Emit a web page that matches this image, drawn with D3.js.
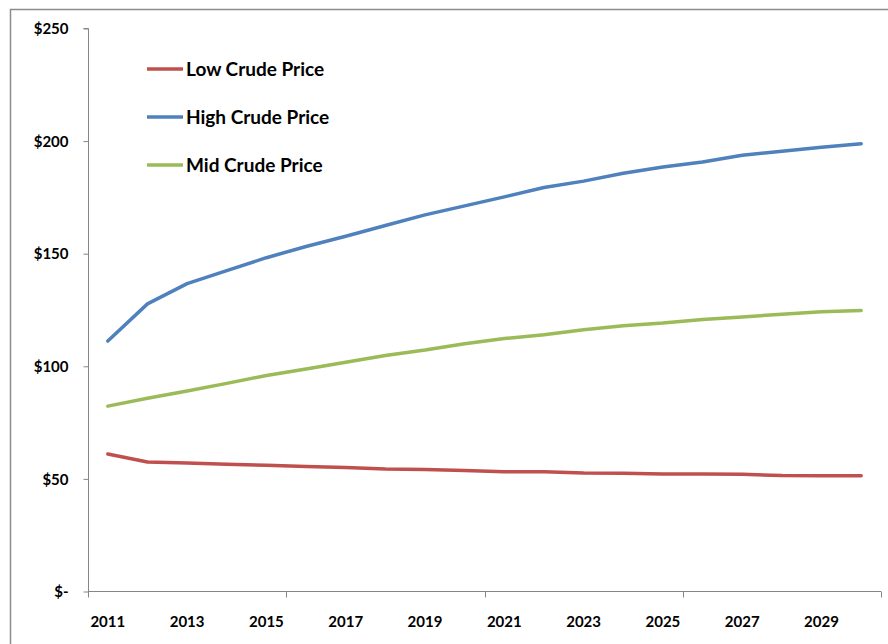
<!DOCTYPE html>
<html>
<head>
<meta charset="utf-8">
<script src="https://cdn.jsdelivr.net/npm/d3@7"></script>
<style>
  body { margin: 0; background: #fff; }
  text { font-family: Lato, "Open Sans", sans-serif; font-weight: bold; fill: #000; }
</style>
</head>
<body>
<svg id="chart" width="888" height="644"></svg>
<script>
const years = d3.range(2011, 2031);
const lowPrice = [60.8, 57.3, 56.8, 56.3, 55.8, 55.3, 54.8, 54.2, 54.0, 53.5, 52.9, 52.9, 52.4, 52.3, 51.9, 51.9, 51.8, 51.3, 51.2, 51.2];
const highPrice = [111, 127.5, 136.5, 142.3, 148, 153, 157.5, 162.3, 167, 171, 175, 179.2, 182, 185.5, 188.3, 190.5, 193.5, 195.3, 197, 198.6];
const midPrice = [82.1, 85.6, 88.8, 92.2, 95.7, 98.6, 101.6, 104.6, 107, 109.8, 112.1, 113.8, 116, 117.8, 119, 120.6, 121.7, 122.9, 124, 124.6];
const yTicks = [0, 50, 100, 150, 200, 250];
const seriesNames = ['Low Crude Price', 'High Crude Price', 'Mid Crude Price'];

const series = [
  { name: seriesNames[0], values: lowPrice, color: '#C0504D' },
  { name: seriesNames[1], values: highPrice, color: '#4F81BD' },
  { name: seriesNames[2], values: midPrice, color: '#9BBB59' }
];

const plotLeft = 88, plotRight = 881, plotTop = 28, plotBottom = 591;
const axisColor = '#868686';

const svg = d3.select('#chart');

// outer chart border
svg.append('rect')
  .attr('x', 10.5).attr('y', 9.5)
  .attr('width', 900).attr('height', 700)
  .attr('fill', 'none')
  .attr('stroke', '#8c8c8c')
  .attr('stroke-width', 1.5);

const xscale = d3.scaleBand()
  .domain(years)
  .range([plotLeft, plotRight])
  .padding(0);

const yscale = d3.scaleLinear()
  .domain([0, 250])
  .range([plotBottom, plotTop]);

// y axis
const leftAxis = d3.axisLeft(yscale)
  .tickValues(yTicks)
  .tickSize(5)
  .tickPadding(15)
  .tickFormat((d) => d === 0 ? '$-' : '$' + d);

const yg = svg.append('g')
  .attr('transform', `translate(${plotLeft + 0.5}, 0.5)`)
  .call(leftAxis);
yg.select('.domain').attr('stroke', axisColor).attr('d', `M-5,${plotTop}H0V${plotBottom}`);
yg.selectAll('.tick line').attr('stroke', axisColor);
yg.selectAll('.tick text').style('font-size', '15px').attr('dy', '0.35em');
yg.selectAll('text').attr('fill', '#000');

// x axis line and tick marks every 5 categories
const xg = svg.append('g').attr('transform', `translate(0, ${plotBottom + 0.5})`);
xg.append('line')
  .attr('x1', plotLeft).attr('x2', plotRight)
  .attr('stroke', axisColor);
const tickYears = years.filter((y, i) => i % 5 === 0);
xg.selectAll('line.tk')
  .data(tickYears.map((y) => xscale(y)).concat([plotRight]))
  .enter()
  .append('line')
  .attr('class', 'tk')
  .attr('x1', (d) => Math.round(d) + 0.5)
  .attr('x2', (d) => Math.round(d) + 0.5)
  .attr('y1', 0).attr('y2', 6)
  .attr('stroke', axisColor);

xg.selectAll('text')
  .data(years.filter((y, i) => i % 2 === 0))
  .enter()
  .append('text')
  .attr('x', (d) => xscale(d) + xscale.bandwidth() / 2)
  .attr('y', 30)
  .attr('dy', '0.35em')
  .attr('text-anchor', 'middle')
  .style('font-size', '15px')
  .text((d) => d);

// lines
const line = d3.line()
  .x((d, i) => xscale(years[i]) + xscale.bandwidth() / 2)
  .y((d) => yscale(d));

svg.append('g')
  .selectAll('path')
  .data(series)
  .enter()
  .append('path')
  .attr('d', (d) => line(d.values))
  .attr('fill', 'none')
  .attr('stroke', (d) => d.color)
  .attr('stroke-width', 3.5)
  .attr('stroke-linejoin', 'round')
  .attr('stroke-linecap', 'round');

// legend
const legend = svg.append('g')
  .selectAll('g')
  .data(series)
  .enter()
  .append('g')
  .attr('transform', (d, i) => `translate(147, ${69 + i * 48})`);

legend.append('line')
  .attr('x1', 0).attr('x2', 36)
  .attr('stroke', (d) => d.color)
  .attr('stroke-width', 3.5);

legend.append('text')
  .attr('x', 39)
  .attr('dy', '0.35em')
  .style('font-size', '19px')
  .text((d) => d.name);
</script>
</body>
</html>
